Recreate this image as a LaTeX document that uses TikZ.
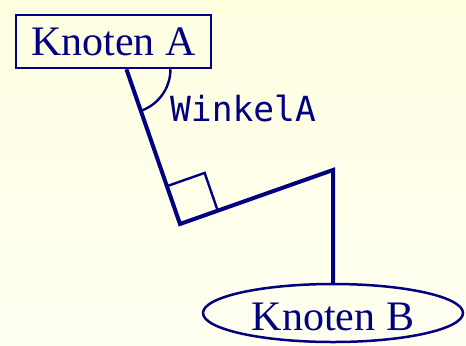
\documentclass[tikz,border=0pt]{standalone}
\usepackage{fontspec}
\setmainfont{Liberation Serif}
\newfontfamily\monofnt{DejaVu Sans Mono}
\usetikzlibrary{shapes.geometric,calc}
\definecolor{ink}{RGB}{0,0,128}
\definecolor{bgtop}{RGB}{255,255,226}
\definecolor{bgbot}{RGB}{255,255,242}
\begin{document}
\begin{tikzpicture}[x=0.5pt,y=0.5pt,
  knot/.style={draw=ink,line width=1.25pt,text=ink,inner sep=0pt,
    font=\fontsize{21}{25}\selectfont},
  edge/.style={draw=ink,line width=2pt,line join=miter},
  thin/.style={draw=ink,line width=1.2pt}]
\shade[top color=bgtop,bottom color=bgbot] (0,0) rectangle (466,345);
\useasboundingbox (0,0) rectangle (466,345);
\node[knot,rectangle,minimum width=97.5pt,minimum height=26.5pt,
  text height=13.9pt,text depth=0pt] (A) at (113.5,303.5) {Knoten A};
\node[knot,ellipse,minimum width=130pt,minimum height=29pt,
  text height=17.6pt,text depth=0pt] (B) at (333,32) {Knoten B};
\coordinate (a1) at (A.-65);
\coordinate (c1) at (180,121);
\coordinate (c2) at (333,175);
\draw[edge] (a1) -- (c1) -- (c2) -- (B.north);
% angle arc
\draw[thin] ([xshift=22pt]a1) arc[start angle=0,end angle=-70.7,radius=22pt];
\node[text=ink,anchor=base,font=\monofnt\fontsize{17.3}{20}\selectfont,inner sep=0pt]
  (W) at (243,224) {WinkelA};
% right angle mark
\coordinate (p1) at ($(c1)!20pt!(a1)$);
\coordinate (p3) at ($(c1)!20pt!(c2)$);
\coordinate (p2) at ($(p1)+(p3)-(c1)$);
\draw[thin] (p1) -- (p2) -- (p3);
\end{tikzpicture}
\end{document}
